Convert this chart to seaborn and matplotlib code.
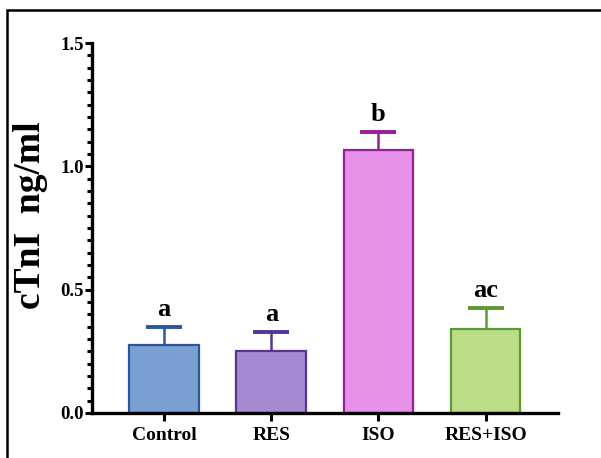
import matplotlib
matplotlib.use("Agg")
import matplotlib.pyplot as plt
from matplotlib.patches import Rectangle
from matplotlib.ticker import MultipleLocator, FormatStrFormatter
import seaborn as sns
import pandas as pd

groups = ["Control", "RES", "ISO", "RES+ISO"]
means = [0.275, 0.25, 1.065, 0.342]
sem = [0.072, 0.078, 0.075, 0.083]
letters = ["a", "a", "b", "ac"]
fills = ["#7BA0D4", "#A58AD2", "#E891E8", "#BCDD88"]
edges = ["#2B579B", "#583496", "#961E96", "#5E9A32"]

sns.set_theme(style="ticks")
plt.rcParams["font.family"] = ["Liberation Serif", "DejaVu Serif"]
plt.rcParams["font.weight"] = "bold"
plt.rcParams["text.color"] = "black"
plt.rcParams["axes.labelcolor"] = "black"
plt.rcParams["xtick.color"] = "black"
plt.rcParams["ytick.color"] = "black"
plt.rcParams["xtick.labelcolor"] = "black"
plt.rcParams["ytick.labelcolor"] = "black"

df = pd.DataFrame({"group": groups, "value": means})

fig = plt.figure(figsize=(6.01, 4.58), dpi=100)
ax = fig.add_axes([0.153, 0.0983, 0.775, 0.8077])

sns.barplot(data=df, x="group", y="value", hue="group", palette=fills,
            order=groups, hue_order=groups, errorbar=None, width=0.65,
            legend=False, ax=ax, saturation=1)

for patch, ec in zip(ax.patches, edges):
    patch.set_edgecolor(ec)
    patch.set_linewidth(1.6)

for i, (m, e, ec, lab) in enumerate(zip(means, sem, edges, letters)):
    _, caps, _ = ax.errorbar(i, m, yerr=[[0], [e]], fmt="none", ecolor=ec,
                             elinewidth=1.8, capsize=13, capthick=2.8,
                             zorder=3)
    # only the upper whisker gets a cap
    caps[0].set_visible(False)
    ax.text(i, m + e + 0.025, lab, ha="center", va="bottom",
            fontsize=19, fontweight="bold", color="black")

ax.set_xlim(-0.673, 3.673)
ax.set_ylim(0, 1.5)
ax.yaxis.set_major_locator(MultipleLocator(0.5))
ax.yaxis.set_minor_locator(MultipleLocator(0.05))
ax.yaxis.set_major_formatter(FormatStrFormatter("%.1f"))

ax.set_xlabel("")
ax.set_ylabel("cTnI  ng/ml", fontsize=27, fontweight="bold", color="black")
ax.yaxis.set_label_coords(-0.095, 0.535)

for side in ["top", "right"]:
    ax.spines[side].set_visible(False)
for side in ["left", "bottom"]:
    ax.spines[side].set_linewidth(2.4)
    ax.spines[side].set_color("black")

ax.tick_params(axis="y", which="major", length=5, width=2.2, labelsize=13.5,
               pad=1, color="black", labelcolor="black")
ax.tick_params(axis="y", which="minor", length=3.5, width=2.2, color="black")
ax.tick_params(axis="x", which="major", length=6, width=2.2, labelsize=14,
               pad=4, color="black", labelcolor="black")
for lbl in ax.get_xticklabels() + ax.get_yticklabels():
    lbl.set_fontweight("bold")

# outer frame
fig.patches.append(Rectangle((7 / 601, -0.1), 1.2, 1 - 10 / 458 + 0.1,
                             transform=fig.transFigure, fill=False,
                             edgecolor="black", linewidth=1.8))

fig.savefig("out.png", dpi=100)
